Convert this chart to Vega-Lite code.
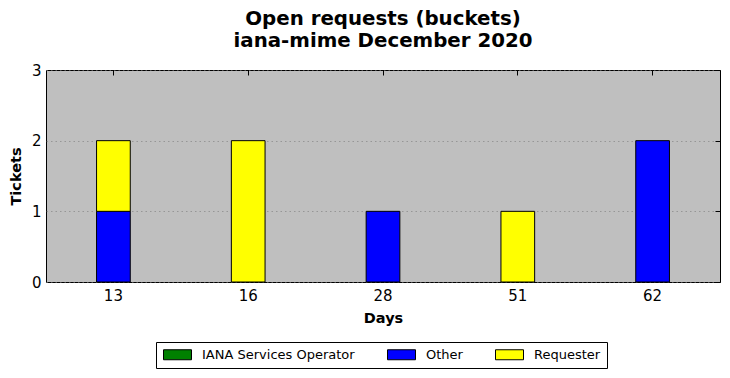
{
  "$schema": "https://vega.github.io/schema/vega-lite/v6.json",
  "width": 674,
  "height": 212,
  "autosize": {"type": "none"},
  "padding": {"left": 46, "top": 70, "right": 10, "bottom": 96},
  "background": "white",
  "title": {
    "text": ["Open requests (buckets)", "iana-mime December 2020"],
    "font": "DejaVu Sans",
    "fontSize": 19.8,
    "fontWeight": "bold",
    "color": "black",
    "anchor": "middle",
    "lineHeight": 22,
    "offset": 12
  },
  "config": {
    "font": "DejaVu Sans",
    "view": {"fill": "#bfbfbf", "stroke": "black", "strokeWidth": 1},
    "axis": {"labelColor": "black", "titleColor": "black", "labelFont": "DejaVu Sans", "titleFont": "DejaVu Sans"}
  },
  "data": {
    "values": [
      {"days": "13", "party": "Other", "tickets": 1},
      {"days": "13", "party": "Requester", "tickets": 1},
      {"days": "16", "party": "Requester", "tickets": 2},
      {"days": "28", "party": "Other", "tickets": 1},
      {"days": "51", "party": "Requester", "tickets": 1},
      {"days": "62", "party": "Other", "tickets": 2}
    ]
  },
  "layer": [
    {
      "mark": {"type": "bar", "stroke": "black", "strokeWidth": 1},
      "encoding": {
        "x": {
          "field": "days", "type": "ordinal",
          "scale": {"paddingInner": 0.75, "paddingOuter": 0.375},
          "axis": {"title": "Days", "titleFontSize": 14.5, "titleFontWeight": "bold", "labelFontSize": 15, "labelAngle": 0, "ticks": false, "domain": false, "labelPadding": 6, "titlePadding": 8}
        },
        "y": {
          "field": "tickets", "type": "quantitative", "aggregate": "sum", "stack": "zero",
          "scale": {"domain": [0, 3], "nice": false},
          "axis": {"title": "Tickets", "titleFontSize": 14.5, "titleFontWeight": "bold", "labelFontSize": 15, "values": [0, 1, 2, 3], "ticks": false, "domain": false, "labelPadding": 5, "titlePadding": 8, "grid": true, "gridDash": [1.5, 3], "gridColor": "#7a7a7a", "gridWidth": 0.6}
        },
        "order": {"field": "party", "sort": "ascending"},
        "color": {
          "field": "party", "type": "nominal",
          "scale": {"domain": ["IANA Services Operator", "Other", "Requester"], "range": ["#008000", "#0000ff", "#ffff00"]},
          "legend": {
            "title": null, "orient": "none", "legendX": 110, "legendY": 272,
            "direction": "horizontal", "columns": 3,
            "strokeColor": "black", "fillColor": "white", "padding": 6,
            "symbolType": "M-1,-1H4.6V1H-1Z", "symbolSize": 100, "symbolStrokeColor": "black", "symbolStrokeWidth": 1, "symbolOpacity": 1,
            "labelFont": "DejaVu Sans", "labelFontSize": 13, "labelColor": "black", "labelOffset": 27, "columnPadding": 30, "labelLimit": 300
          }
        }
      }
    },
    {
      "mark": {"type": "bar", "opacity": 0},
      "encoding": {
        "x": {
          "field": "days", "type": "ordinal",
          "axis": {"orient": "top", "title": null, "labels": false, "domain": false, "grid": false, "ticks": true, "tickSize": -5, "tickColor": "black"}
        },
        "y": {
          "field": "tickets", "type": "quantitative", "aggregate": "sum", "stack": "zero",
          "axis": {"orient": "right", "title": null, "labels": false, "domain": false, "grid": false, "ticks": true, "tickSize": -5, "tickColor": "black", "values": [0, 1, 2, 3]}
        }
      }
    }
  ],
  "resolve": {"axis": {"x": "independent", "y": "independent"}}
}
